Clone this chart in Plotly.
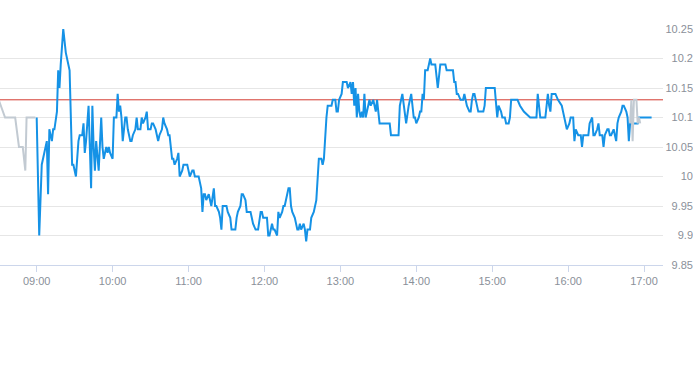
import plotly.graph_objects as go

DAY = "2024-01-02"

# Regular session (blue)
blue_time = [
    "09:00","09:02","09:04","09:05","09:08","09:09","09:10","09:12","09:13","09:14",
    "09:16","09:17","09:18","09:19","09:20","09:21","09:23","09:24","09:25","09:26",
    "09:28","09:29","09:31","09:33","09:34","09:36","09:37","09:38","09:39","09:41",
    "09:43","09:44","09:45","09:46","09:47","09:49","09:51","09:52","09:53","09:55",
    "09:56","09:57","09:58","10:00","10:01","10:03","10:04","10:05","10:06","10:07",
    "10:08","10:10","10:11","10:12","10:14","10:15","10:16","10:18","10:19","10:20",
    "10:22","10:23","10:24","10:26","10:27","10:28","10:30","10:31","10:32","10:34",
    "10:35","10:36","10:37","10:39","10:40","10:41","10:43","10:44","10:45","10:47",
    "10:48","10:49","10:51","10:52","10:53","10:55","10:56","10:59","11:00","11:01",
    "11:03","11:04","11:05","11:08","11:09","11:10","11:11","11:12","11:13","11:14",
    "11:16","11:17","11:18","11:20","11:21","11:22","11:24","11:25","11:26","11:27",
    "11:29","11:30","11:31","11:33","11:34","11:37","11:38","11:39","11:41","11:42",
    "11:43","11:45","11:46","11:47","11:49","11:50","11:51","11:53","11:54","11:55",
    "11:57","11:58","11:59","12:00","12:02","12:03","12:04","12:06","12:07","12:08",
    "12:10","12:11","12:12","12:14","12:15","12:16","12:18","12:19","12:20","12:21",
    "12:22","12:24","12:26","12:27","12:28","12:29","12:31","12:32","12:33","12:34",
    "12:36","12:37","12:39","12:40","12:41","12:43","12:44","12:45","12:46","12:47",
    "12:49","12:50","12:53","12:54","12:56","12:57","12:58","12:59","13:01","13:02",
    "13:04","13:05","13:06","13:08","13:09","13:10","13:11","13:12","13:13","13:14",
    "13:15","13:16","13:17","13:18","13:19","13:20","13:21","13:22","13:23","13:24",
    "13:26","13:28","13:29","13:30","13:31","13:39","13:40","13:46","13:47","13:49",
    "13:50","13:51","13:52","13:54","13:55","13:56","13:58","13:59","14:00","14:02",
    "14:03","14:04","14:05","14:06","14:07","14:09","14:10","14:11","14:12","14:14",
    "14:15","14:16","14:17","14:19","14:20","14:23","14:24","14:29","14:30","14:31",
    "14:32","14:33","14:35","14:36","14:37","14:38","14:39","14:40","14:42","14:43",
    "14:44","14:45","14:46","14:48","14:49","14:50","14:52","14:53","14:54","14:55",
    "15:02","15:03","15:04","15:05","15:07","15:08","15:10","15:11","15:13","15:14",
    "15:15","15:17","15:20","15:22","15:25","15:30","15:34","15:35","15:36","15:37",
    "15:38","15:42","15:44","15:45","15:46","15:47","15:48","15:50","15:52","15:55",
    "15:56","15:58","15:59","16:01","16:02","16:04","16:05","16:06","16:08","16:09",
    "16:10","16:11","16:12","16:16","16:17","16:19","16:20","16:21","16:23","16:24",
    "16:25","16:27","16:28","16:29","16:31","16:32","16:33","16:34","16:36","16:37",
    "16:38","16:39","16:40","16:42","16:43","16:44","16:46","16:47","16:48","16:49",
    "16:50","16:53","16:55","16:56","16:58","17:00","17:02","17:06",
]
blue_price = [
    10.10,9.90,10.02,10.03,10.06,9.97,10.08,10.06,10.08,10.08,
    10.11,10.18,10.15,10.19,10.22,10.25,10.21,10.20,10.19,10.18,
    10.02,10.02,10.00,10.06,10.07,10.07,10.09,10.04,10.06,10.12,
    9.98,10.12,10.05,10.01,10.06,10.01,10.10,10.05,10.03,10.05,
    10.04,10.05,10.04,10.03,10.10,10.10,10.14,10.11,10.12,10.10,
    10.06,10.10,10.10,10.08,10.06,10.06,10.07,10.08,10.10,10.08,
    10.08,10.10,10.09,10.10,10.11,10.08,10.08,10.09,10.09,10.08,
    10.07,10.06,10.07,10.08,10.10,10.09,10.08,10.07,10.07,10.03,
    10.03,10.02,10.03,10.04,10.00,10.01,10.02,10.02,10.01,10.00,
    10.01,10.01,10.00,10.00,9.99,9.98,9.94,9.97,9.97,9.96,
    9.97,9.96,9.95,9.98,9.95,9.95,9.94,9.93,9.91,9.95,
    9.95,9.95,9.94,9.93,9.91,9.91,9.93,9.94,9.95,9.97,
    9.97,9.96,9.94,9.94,9.94,9.93,9.92,9.91,9.91,9.91,
    9.94,9.94,9.93,9.93,9.93,9.90,9.90,9.92,9.91,9.91,
    9.90,9.94,9.93,9.94,9.95,9.95,9.97,9.98,9.98,9.95,
    9.94,9.93,9.91,9.91,9.92,9.91,9.92,9.91,9.89,9.91,
    9.91,9.93,9.94,9.95,9.96,10.03,10.03,10.03,10.02,10.03,
    10.10,10.12,10.12,10.13,10.13,10.11,10.11,10.13,10.14,10.16,
    10.16,10.16,10.15,10.16,10.14,10.16,10.12,10.15,10.10,10.14,
    10.11,10.10,10.11,10.10,10.14,10.10,10.11,10.12,10.13,10.12,
    10.13,10.11,10.13,10.11,10.09,10.09,10.07,10.07,10.12,10.14,
    10.12,10.11,10.09,10.12,10.13,10.14,10.10,10.10,10.09,10.10,
    10.11,10.11,10.14,10.13,10.18,10.18,10.19,10.20,10.19,10.19,
    10.19,10.17,10.15,10.19,10.19,10.19,10.18,10.18,10.16,10.16,
    10.14,10.14,10.13,10.13,10.13,10.14,10.13,10.12,10.11,10.11,
    10.13,10.14,10.14,10.12,10.11,10.11,10.11,10.11,10.12,10.15,
    10.15,10.13,10.10,10.12,10.11,10.10,10.10,10.09,10.09,10.10,
    10.13,10.13,10.13,10.12,10.11,10.10,10.10,10.10,10.14,10.12,
    10.10,10.10,10.14,10.12,10.11,10.14,10.14,10.14,10.13,10.12,
    10.11,10.09,10.08,10.09,10.10,10.10,10.06,10.08,10.07,10.07,
    10.07,10.05,10.07,10.07,10.09,10.10,10.07,10.07,10.08,10.09,
    10.07,10.07,10.05,10.07,10.08,10.08,10.07,10.07,10.08,10.07,
    10.06,10.09,10.10,10.11,10.12,10.12,10.11,10.10,10.06,10.09,
    10.09,10.09,10.09,10.10,10.10,10.10,10.10,10.10,
]

# Extended hours (grey)
pre_time = ["08:30","08:35","08:43","08:46","08:49","08:51","08:52","08:59"]
pre_price = [10.13,10.10,10.10,10.05,10.05,10.01,10.10,10.10]
post_time = ["16:49","16:50","16:51","16:52","16:53","16:54","16:55","16:56","16:57"]
post_price = [10.09,10.13,10.06,10.13,10.13,10.13,10.09,10.10,10.09]

prev_close = 10.13

y_ticks = [9.85, 9.90, 9.95, 10.00, 10.05, 10.10, 10.15, 10.20, 10.25]
y_tick_labels = ["9.85", "9.9", "9.95", "10", "10.05", "10.1", "10.15", "10.2", "10.25"]
x_ticks = ["09:00","10:00","11:00","12:00","13:00","14:00","15:00","16:00","17:00"]
x_range = ["08:31", "17:15"]


def ts(t):
    return f"{DAY} {t}"


grey_x = [ts(t) for t in pre_time] + [None] + [ts(t) for t in post_time]
grey_y = pre_price + [None] + post_price

FONT = dict(family="Liberation Sans, Arial, sans-serif", size=11, color="#8a9099")

fig = go.Figure()
fig.add_trace(go.Scatter(
    x=[ts(t) for t in blue_time], y=blue_price, mode="lines",
    line=dict(color="#1592e6", width=2), showlegend=False, hoverinfo="skip",
))
fig.add_trace(go.Scatter(
    x=grey_x, y=grey_y, mode="lines", connectgaps=False,
    line=dict(color="#c2cad2", width=2), showlegend=False, hoverinfo="skip",
))
# invisible trace to activate the label axis
fig.add_trace(go.Scatter(x=[ts(x_ticks[0])], y=[y_ticks[0]], yaxis="y2",
                         mode="markers", marker=dict(opacity=0),
                         showlegend=False, hoverinfo="skip"))

fig.add_shape(type="line", xref="paper", x0=0, x1=663 / 693, yref="y",
              y0=prev_close, y1=prev_close, layer="between",
              line=dict(color="#d33a2f", width=1))

fig.update_layout(
    width=693, height=365, autosize=False,
    margin=dict(l=0, r=0, t=29, b=100, pad=0),
    paper_bgcolor="white", plot_bgcolor="white",
    font=FONT,
    xaxis=dict(
        type="date", domain=[0, 663 / 693],
        range=[ts(x_range[0]), ts(x_range[1])],
        tickvals=[ts(t) for t in x_ticks], ticktext=x_ticks,
        showgrid=False, zeroline=False,
        showline=True, linecolor="#ccd6eb", linewidth=1,
        ticks="outside", ticklen=6, tickcolor="#ccd6eb", tickwidth=1,
        tickfont=FONT, fixedrange=True,
    ),
    yaxis=dict(
        range=[y_ticks[0], y_ticks[-1]], tickvals=y_ticks,
        showticklabels=False, showgrid=True, gridcolor="#e6e6e6", gridwidth=1,
        zeroline=False, showline=False, ticks="", fixedrange=True,
    ),
    yaxis2=dict(
        overlaying="y", anchor="free", position=1, side="left",
        range=[y_ticks[0], y_ticks[-1]], tickvals=y_ticks, ticktext=y_tick_labels,
        showgrid=False, zeroline=False, showline=False, ticks="",
        tickfont=FONT, fixedrange=True,
    ),
)

fig.write_html("out.html", config={"displayModeBar": False},
               post_script="document.body.style.margin='0';")
